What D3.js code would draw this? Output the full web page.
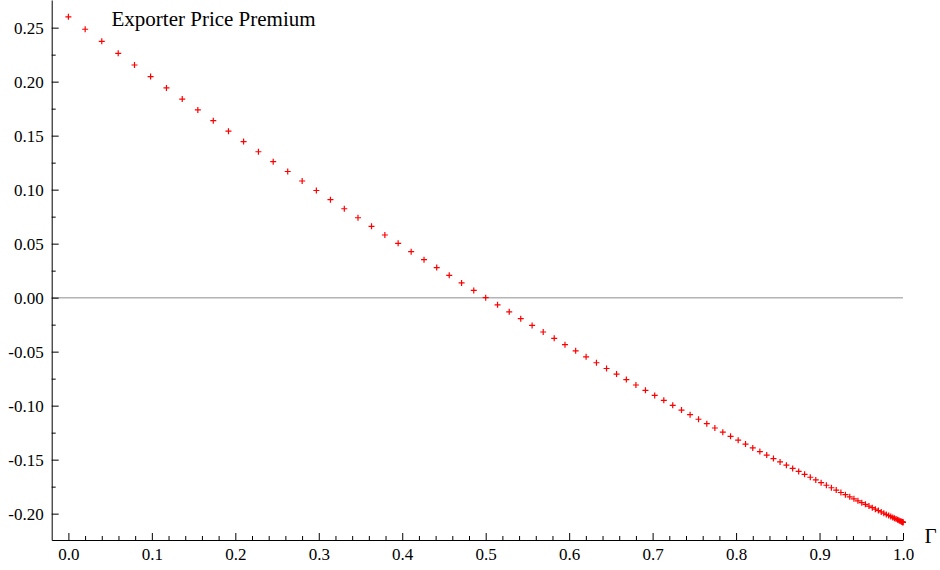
<!DOCTYPE html>
<html>
<head>
<meta charset="utf-8">
<script src="https://cdn.jsdelivr.net/npm/d3@7"></script>
<style>
  html, body { margin: 0; padding: 0; background: #fff; }
  svg { display: block; }
</style>
</head>
<body>
<svg id="chart" width="940" height="570"></svg>
<script>
// Γ values of the sampled points
const gamma = [
  0.0000, 0.0201, 0.0400, 0.0597, 0.0792, 0.0985, 0.1175, 0.1364, 0.1551, 0.1736,
  0.1918, 0.2099, 0.2277, 0.2454, 0.2628, 0.2801, 0.2971, 0.3140, 0.3306, 0.3470,
  0.3632, 0.3792, 0.3951, 0.4107, 0.4261, 0.4413, 0.4563, 0.4711, 0.4857, 0.5000,
  0.5142, 0.5282, 0.5420, 0.5556, 0.5689, 0.5821, 0.5950, 0.6078, 0.6203, 0.6327,
  0.6448, 0.6568, 0.6685, 0.6800, 0.6914, 0.7025, 0.7134, 0.7241, 0.7346, 0.7449,
  0.7550, 0.7649, 0.7746, 0.7841, 0.7934, 0.8025, 0.8113, 0.8200, 0.8285, 0.8367,
  0.8448, 0.8527, 0.8603, 0.8678, 0.8750, 0.8821, 0.8889, 0.8955, 0.9019, 0.9082,
  0.9142, 0.9200, 0.9256, 0.9310, 0.9362, 0.9412, 0.9460, 0.9506, 0.9550, 0.9592,
  0.9632, 0.9669, 0.9705, 0.9739, 0.9770, 0.9800, 0.9828, 0.9853, 0.9877, 0.9898,
  0.9917, 0.9935, 0.9950, 0.9963, 0.9974, 0.9984, 0.9991, 0.9996, 0.9999, 1.0000
];

// Exporter price premium at each Γ
const premium = [
   0.2600,  0.2485,  0.2373,  0.2262,  0.2154,  0.2047,  0.1942,  0.1839,  0.1738,  0.1639,
   0.1541,  0.1445,  0.1351,  0.1259,  0.1168,  0.1080,  0.0992,  0.0907,  0.0823,  0.0740,
   0.0660,  0.0580,  0.0503,  0.0426,  0.0352,  0.0278,  0.0207,  0.0136,  0.0067,  0.0000,
  -0.0066, -0.0131, -0.0195, -0.0257, -0.0318, -0.0377, -0.0435, -0.0492, -0.0548, -0.0603,
  -0.0656, -0.0708, -0.0759, -0.0809, -0.0858, -0.0905, -0.0951, -0.0997, -0.1041, -0.1084,
  -0.1126, -0.1167, -0.1207, -0.1246, -0.1284, -0.1320, -0.1356, -0.1391, -0.1425, -0.1458,
  -0.1490, -0.1521, -0.1551, -0.1581, -0.1609, -0.1636, -0.1663, -0.1688, -0.1713, -0.1737,
  -0.1760, -0.1782, -0.1804, -0.1824, -0.1844, -0.1863, -0.1881, -0.1898, -0.1914, -0.1930,
  -0.1945, -0.1959, -0.1972, -0.1984, -0.1996, -0.2007, -0.2017, -0.2026, -0.2035, -0.2043,
  -0.2050, -0.2056, -0.2062, -0.2067, -0.2071, -0.2074, -0.2077, -0.2079, -0.2080, -0.2080
];

// Axis ticks
const xTicks = [0.0, 0.1, 0.2, 0.3, 0.4, 0.5, 0.6, 0.7, 0.8, 0.9, 1.0];
const xMinorTicks = [0.02, 0.04, 0.06, 0.08, 0.12, 0.14, 0.16, 0.18, 0.22, 0.24, 0.26, 0.28,
  0.32, 0.34, 0.36, 0.38, 0.42, 0.44, 0.46, 0.48, 0.52, 0.54, 0.56, 0.58, 0.62, 0.64, 0.66, 0.68,
  0.72, 0.74, 0.76, 0.78, 0.82, 0.84, 0.86, 0.88, 0.92, 0.94, 0.96, 0.98];
const yTicks = [-0.20, -0.15, -0.10, -0.05, 0.00, 0.05, 0.10, 0.15, 0.20, 0.25];
const yMinorTicks = [-0.175, -0.125, -0.075, -0.025, 0.025, 0.075, 0.125, 0.175, 0.225];

const seriesLabel = "Exporter Price Premium";
const xAxisLabel = "Γ";

const serif = "'Liberation Serif', 'Times New Roman', serif";
const svg = d3.select("#chart").style("font-family", serif);

const x = d3.scaleLinear().domain([-0.02, 1.0]).range([51.7, 903]);
const y = d3.scaleLinear().domain([-0.2244, 0.2756]).range([540, 0]);

const axisColor = "#000";

// zero reference line
svg.append("line")
  .attr("x1", x(-0.02)).attr("x2", x(1.0))
  .attr("y1", y(0)).attr("y2", y(0))
  .attr("stroke", "#b4b4b4")
  .attr("stroke-width", 1.5);

// x axis (ticks pointing into the plot)
const gx = svg.append("g").attr("transform", `translate(0,${y.range()[0]})`);
gx.call(d3.axisBottom(x).tickValues(xTicks).tickFormat(d => d.toFixed(1))
  .tickSizeInner(-7).tickSizeOuter(0).tickPadding(8));
gx.append("g").call(d3.axisBottom(x).tickValues(xMinorTicks).tickFormat("")
  .tickSizeInner(-4).tickSizeOuter(0))
  .select(".domain").remove();

// y axis (ticks pointing into the plot)
const gy = svg.append("g").attr("transform", `translate(${x.range()[0]},0)`);
gy.call(d3.axisLeft(y).tickValues(yTicks).tickFormat(d => d.toFixed(2))
  .tickSizeInner(-7).tickSizeOuter(0).tickPadding(8));
gy.append("g").call(d3.axisLeft(y).tickValues(yMinorTicks).tickFormat("")
  .tickSizeInner(-4).tickSizeOuter(0))
  .select(".domain").remove();

[gx, gy].forEach(g => {
  g.attr("font-family", null).attr("font-size", null)
   .style("font-family", serif).style("font-size", "17px");
  g.selectAll(".domain").attr("stroke", axisColor).attr("stroke-width", 1);
  g.selectAll(".tick line").attr("stroke", axisColor).attr("stroke-width", 1);
  g.selectAll(".tick text")
    .style("font-family", serif)
    .style("font-size", "17px")
    .attr("fill", "#000");
});

// data points drawn as red crosses
const arm = 3;
const pts = svg.append("g").attr("stroke", "#ff0000").attr("stroke-width", 1.2);
const data = gamma.map((g, i) => ({ g, p: premium[i] }));
pts.selectAll("path").data(data).join("path")
  .attr("d", d => {
    const cx = x(d.g), cy = y(d.p);
    return `M${cx - arm},${cy}H${cx + arm}M${cx},${cy - arm}V${cy + arm}`;
  });

// series label and axis label
svg.append("text")
  .attr("x", 111.5).attr("y", 26)
  .style("font-family", serif)
  .style("font-size", "21px")
  .attr("fill", "#000")
  .text(seriesLabel);

svg.append("text")
  .attr("x", 924.5).attr("y", 542.5)
  .style("font-family", serif)
  .style("font-size", "21px")
  .attr("fill", "#000")
  .text(xAxisLabel);
</script>
</body>
</html>
